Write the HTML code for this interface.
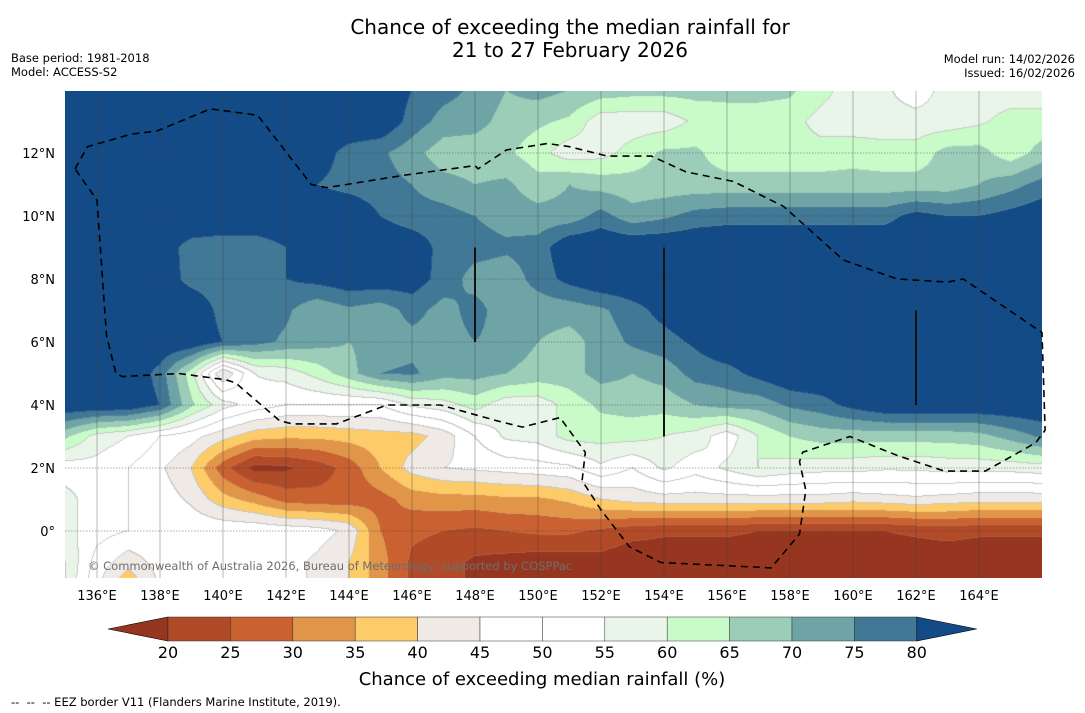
<!DOCTYPE html>
<html><head><meta charset="utf-8">
<style>
html,body{margin:0;padding:0;background:#fff;}
#wrap{position:relative;width:1085px;height:713px;overflow:hidden;font-family:"DejaVu Sans","Liberation Sans",sans-serif;}
#map{position:absolute;left:65px;top:91px;}
#ov{position:absolute;left:0;top:0;}
</style></head>
<body>
<div id="wrap">
<canvas id="map" width="977" height="487"></canvas>
<svg id="ov" width="1085" height="713" font-family="DejaVu Sans, sans-serif"></svg>
</div>
<script>
const lons = [135,136,137,138,139,140,141,142,143,144,145,146,147,148,149,150,151,152,153,154,155,156,157,158,159,160,161,162,163,164,165,166];
const lats = [14,13,12,11,10,9,8,7,6,5,4,3,2,1,0,-1,-2];
const row14 = [85,85,85,85,85,85,85,85,85,85,85,80,77,74,70,72,70,68,67,67,67,67,67,66,62,57,56,52,57,57,57,57];
const row13 = [85,85,85,85,85,85,85,85,85,85,85,78,73,72,68,66,64,57,57,57,61,62,62,62,58,57,57,57,57,59,62,62];
const row12 = [85,85,85,85,85,85,85,85,83,78,76,72,67,67,66,62,57,58,62,66,66,62,62,62,62,63,62,62,67,67,62,67];
const row11 = [85,85,85,85,85,85,85,85,80,78,77,75,72,70,71,67,70,68,67,67,67,67,67,67,67,67,67,67,67,70,73,77];
const row10 = [85,85,85,85,85,85,85,85,85,85,80,77,77,75,73,72,72,77,72,74,77,78,78,78,78,78,78,82,80,80,82,84];
const row9 = [85,85,85,83,78,77,77,80,84,85,85,84,78,77,76,77,85,85,85,85,85,85,85,85,85,85,85,85,85,85,85,85];
const row8 = [85,85,85,84,78,77,77,80,82,84,84,83,78,73,72,77,82,85,85,85,85,85,85,85,85,85,85,85,85,85,85,85];
const row7 = [85,85,85,85,85,78,78,76,71,74,72,77,73,77,72,72,72,74,78,82,85,85,85,85,85,85,85,85,85,85,85,85];
const row6 = [85,85,85,85,85,80,77,74,72,70,72,73,73,75,73,70,68,72,76,78,81,85,85,85,85,85,85,85,85,85,85,85];
const row5 = [85,85,85,78,62,40,55,57,62,68,75,76,72,72,70,68,68,72,70,72,77,78,82,85,85,85,85,85,85,85,85,85];
const row4 = [85,85,85,80,66,57,53,50,50,50,50,56,58,62,57,57,62,66,67,67,70,72,72,76,78,82,85,85,85,85,85,85];
const row3 = [66,58,55,50,47,42,37,36,36,37,38,38,42,50,56,57,62,62,62,60,58,52,60,65,67,67,67,67,67,68,72,76];
const row2 = [52,53,50,46,40,27,18,19,22,27,35,42,45,46,47,48,49,54,50,56,52,56,60,58,57,57,56,56,57,57,57,58];
const row1 = [57,52,50,48,44,37,33,28,27,27,28,32,33,33,34,34,36,40,42,43,43,43,43,43,43,42,43,44,43,42,42,42];
const row0 = [57,52,50,49,49,49,49,48,47,44,30,26,25,24,25,26,26,24,22,21,21,21,20,20,20,20,20,21,22,21,21,21];
const rowM1 = [60,48,42,47,50,48,48,47,44,40,32,24,22,19,18,17,17,18,16,16,16,16,16,16,16,16,16,16,16,16,16,16];
const rowM2 = [60,45,33,45,48,48,48,47,44,40,32,24,22,19,18,17,17,18,16,16,16,16,16,16,16,16,16,16,16,16,16,16];
const grid = [row14,row13,row12,row11,row10,row9,row8,row7,row6,row5,row4,row3,row2,row1,row0,rowM1,rowM2];
const levels = [20,25,30,35,40,45,50,55,60,65,70,75,80];
const colors = ['#973620','#b04a27','#c96130','#e19548','#fecb69','#efeae6','#ffffff','#ffffff','#eaf5ea','#c9fbc9','#9bcdb8','#6fa4a6','#417895','#134b86'];
const lonTicks = [136,138,140,142,144,146,148,150,152,154,156,158,160,162,164];
const latTicks = [0,2,4,6,8,10,12];
const eezLon = [135.3,135.7,137.1,137.9,139.6,141.1,142.8,143.3,145.8,148.0,148.1,149.0,150.3,151.0,152.2,153.6,154.7,156.2,157.8,159.7,161.4,163.0,163.5,166.0,166.1,165.8,164.2,162.9,161.4,159.9,158.4,158.3,158.5,158.3,157.4,153.9,152.9,152.0,151.4,151.5,150.7,149.5,148.7,146.9,145.2,143.6,142.2,141.8,140.4,140.1,138.6,136.8,136.6,136.3,136.0,135.3];
const eezLat = [11.5,12.2,12.6,12.7,13.4,13.2,11.0,10.9,11.3,11.6,11.5,12.1,12.3,12.2,11.9,11.9,11.4,11.1,10.3,8.6,8.0,7.9,8.0,6.3,3.2,2.8,1.9,1.9,2.4,3.0,2.5,2.2,1.3,-0.1,-1.17,-1.0,-0.5,0.67,1.6,2.5,3.6,3.3,3.5,4.0,4.0,3.4,3.4,3.5,4.7,4.8,5.0,4.9,5.0,6.2,10.5,11.5];
const tickLines = [[148,9,6],[154,9,3],[162,7,4]];

const X = lon => 65.5 + (lon-135)*31.5;
const Y = lat => 531 - lat*31.5;

(function(){
  const cv = document.getElementById('map');
  const ctx = cv.getContext('2d');
  const W = cv.width, H = cv.height;
  const img = ctx.createImageData(W,H);
  const rgb = colors.map(c=>[parseInt(c.substr(1,2),16),parseInt(c.substr(3,2),16),parseInt(c.substr(5,2),16)]);
  const cls = new Int8Array(W*H);
  function val(lon,lat){
    let fx = lon-lons[0]; let fy = lats[0]-lat;
    fx = Math.max(0,Math.min(lons.length-1.001,fx));
    fy = Math.max(0,Math.min(lats.length-1.001,fy));
    const i=Math.floor(fx), j=Math.floor(fy), tx=fx-i, ty=fy-j;
    const a=grid[j][i],b=grid[j][i+1],c=grid[j+1][i],d=grid[j+1][i+1];
    return a*(1-tx)*(1-ty)+b*tx*(1-ty)+c*(1-tx)*ty+d*tx*ty;
  }
  for(let py=0;py<H;py++){
    const lat = (531 - (py+91.5))/31.5;
    for(let px=0;px<W;px++){
      const lon = 135 + px/31.5;
      const v = val(lon,lat);
      let k=0; while(k<levels.length && v>=levels[k]) k++;
      cls[py*W+px]=k;
    }
  }
  for(let py=0;py<H;py++){
    for(let px=0;px<W;px++){
      const k=cls[py*W+px];
      let c=rgb[k];
      const r = px+1<W?cls[py*W+px+1]:k, dn = py+1<H?cls[(py+1)*W+px]:k;
      if((r!==k||dn!==k)){
        const lo=Math.min(k,r,dn);
        if(lo>=4 && Math.max(k,r,dn)<=9) c=[200,200,200];
        else c=[Math.round(c[0]*0.85+180*0.15),Math.round(c[1]*0.85+180*0.15),Math.round(c[2]*0.85+180*0.15)];
      }
      const o=(py*W+px)*4;
      img.data[o]=c[0];img.data[o+1]=c[1];img.data[o+2]=c[2];img.data[o+3]=255;
    }
  }
  ctx.putImageData(img,0,0);
})();

(function(){
  const svg=document.getElementById('ov');
  const NS='http://www.w3.org/2000/svg';
  function mk(tag,attrs,parent){const e=document.createElementNS(NS,tag);for(const k in attrs)e.setAttribute(k,attrs[k]);(parent||svg).appendChild(e);return e;}
  function txt(s,attrs,parent){const e=mk('text',attrs,parent);e.textContent=s;return e;}

  const g=mk('g',{});
  
  
  lonTicks.forEach(l=>{
    const ln=mk('line',{x1:X(l),x2:X(l),y1:91,y2:578,stroke:'rgba(60,60,60,0.45)','stroke-width':0.8},g);
    
    
  });
  latTicks.forEach(l=>{
    const ln=mk('line',{x1:65,x2:1042,y1:Y(l),y2:Y(l),stroke:'rgba(60,60,60,0.55)','stroke-width':0.8,'stroke-dasharray':'1.5,1.5'},g);
    
    
  });

  tickLines.forEach(t=>{
    const ln=mk('line',{x1:X(t[0]),x2:X(t[0]),y1:Y(t[1]),y2:Y(t[2]),stroke:'#111','stroke-width':2});
    
    
  });

  const pts=eezLon.map((l,i)=>X(l).toFixed(1)+','+Y(eezLat[i]).toFixed(1)).join(' ');
  const eez=mk('polyline',{points:pts,fill:'none',stroke:'#000','stroke-width':1.6,'stroke-dasharray':'7,5'});
  
  

  const cp=txt('© Commonwealth of Australia 2026, Bureau of Meteorology, supported by COSPPac',{x:88,y:570,'font-size':11.5,fill:'#6e6e6e'});
  
  

  lonTicks.forEach(l=>{
    const t=txt(l+'°E',{x:X(l),y:600,'font-size':13,'text-anchor':'middle',fill:'#000'});
    
    
  });
  latTicks.forEach(l=>{
    const t=txt(l===0?'0°':l+'°N',{x:55,y:Y(l)+5,'font-size':13,'text-anchor':'end',fill:'#000'});
    
    
  });

  const cb=mk('g',{});
  
  
  const cx0=168, step=62.4, cy=617, ch=24;
  const lt=mk('polygon',{points:`108,${cy+ch/2} ${cx0},${cy} ${cx0},${cy+ch}`,fill:colors[0],stroke:'#000','stroke-width':0.6},cb);
  
  
  for(let i=0;i<12;i++){
    const r=mk('rect',{x:cx0+i*step,y:cy,width:step,height:ch,fill:colors[i+1],stroke:'#333','stroke-width':0.5},cb);
    
    
  }
  const xe=cx0+12*step;
  const rt=mk('polygon',{points:`${xe},${cy} ${xe+60},${cy+ch/2} ${xe},${cy+ch}`,fill:colors[13],stroke:'#000','stroke-width':0.6},cb);
  
  
  levels.forEach((v,i)=>{
    const t=txt(String(v),{x:cx0+i*step,y:658,'font-size':16,'text-anchor':'middle',fill:'#000'},cb);
    
    
  });
})();
</script>
<svg width="1085" height="713" style="position:absolute;left:0;top:0;pointer-events:none" font-family="DejaVu Sans, sans-serif">
<text x="570" y="34" font-size="20" text-anchor="middle">Chance of exceeding the median rainfall for</text>
<text x="570" y="57" font-size="20" text-anchor="middle">21 to 27 February 2026</text>
<text x="11" y="62" font-size="11.5">Base period: 1981-2018</text>
<text x="11" y="76" font-size="11.5">Model: ACCESS-S2</text>
<text x="1075" y="63" font-size="11.5" text-anchor="end">Model run: 14/02/2026</text>
<text x="1075" y="77" font-size="11.5" text-anchor="end">Issued: 16/02/2026</text>
<text x="542" y="685" font-size="18" text-anchor="middle">Chance of exceeding median rainfall (%)</text>
<text x="11" y="706" font-size="11.5" xml:space="preserve">--  --  -- EEZ border V11 (Flanders Marine Institute, 2019).</text>
</svg>
</body></html>
